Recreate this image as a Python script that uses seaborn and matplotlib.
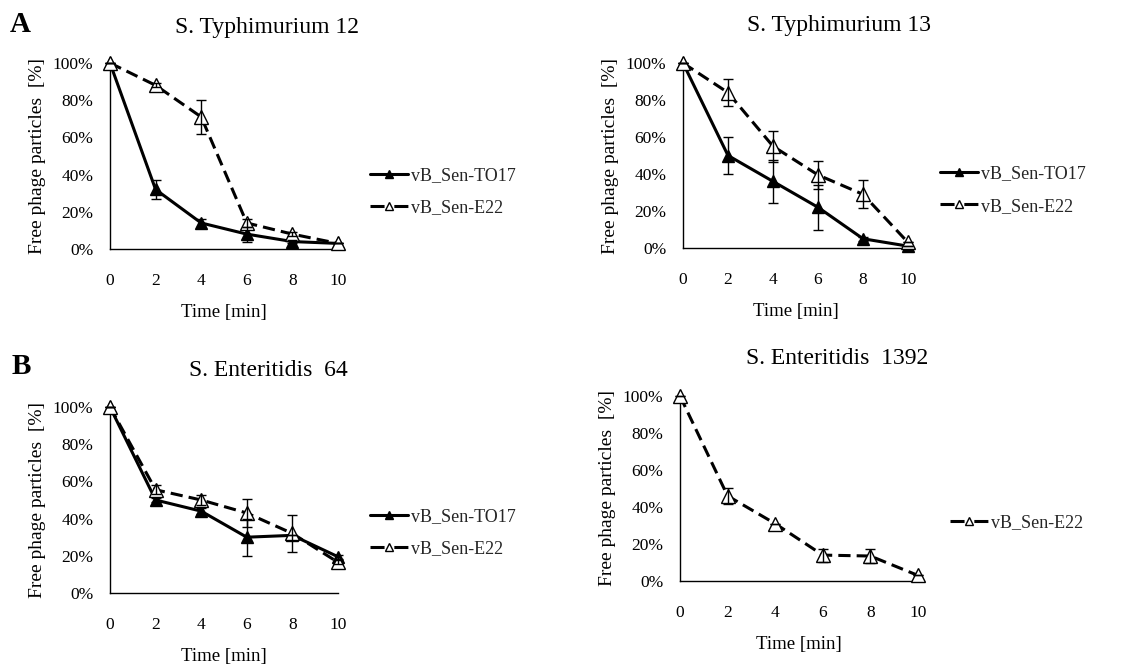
import numpy as np
import pandas as pd
import matplotlib
matplotlib.use("Agg")
import matplotlib.pyplot as plt
from matplotlib.ticker import PercentFormatter
import seaborn as sns

sns.set_theme(style="white")
plt.rcParams['font.family'] = ['Liberation Serif', 'DejaVu Serif']

time = [0, 2, 4, 6, 8, 10]

titles = ["S. Typhimurium 12", "S. Typhimurium 13", "S. Enteritidis  64", "S. Enteritidis  1392"]

# panel A1: S. Typhimurium 12
st12_to17 = [100, 32, 14, 8, 4, 3]
st12_to17_err = [0, 5, 2, 4, 1, 0]
st12_e22 = [100, 88, 71, 14, 8, 3]
st12_e22_err = [0, 1, 9, 2, 1, 0]

# panel A2: S. Typhimurium 13
st13_to17 = [100, 50, 36, 22, 5, 1]
st13_to17_err = [0, 10, 11.5, 12, 1, 0]
st13_e22 = [100, 84, 55, 39.5, 29, 3]
st13_e22_err = [0, 7.5, 8.5, 7.5, 7.5, 0]

# panel B1: S. Enteritidis 64
se64_to17 = [100, 50, 44, 30, 31, 19.5]
se64_to17_err = [0, 1, 1.5, 10, 0, 1]
se64_e22 = [100, 55.5, 50, 43, 32, 16.5]
se64_e22_err = [0, 2.5, 2.5, 7.5, 10, 1]

# panel B2: S. Enteritidis 1392
se1392_e22 = [100, 46, 31, 14, 13.5, 3]
se1392_e22_err = [0, 4.3, 0, 3.5, 4, 0]

series_names = ["vB_Sen-TO17", "vB_Sen-E22"]

panels = [
    dict(title=titles[0], to17=(st12_to17, st12_to17_err), e22=(st12_e22, st12_e22_err)),
    dict(title=titles[1], to17=(st13_to17, st13_to17_err), e22=(st13_e22, st13_e22_err)),
    dict(title=titles[2], to17=(se64_to17, se64_to17_err), e22=(se64_e22, se64_e22_err)),
    dict(title=titles[3], to17=None, e22=(se1392_e22, se1392_e22_err)),
]

W, H = 1137, 664
fig = plt.figure(figsize=(W / 100, H / 100), dpi=100)

def fr(x0, y0, x1, y1):
    return [x0 / W, 1 - y1 / H, (x1 - x0) / W, (y1 - y0) / H]

axes_rects = [fr(110, 63, 338, 249), fr(683, 63, 908, 248),
              fr(110, 407, 338, 593), fr(680, 396, 918, 581)]
title_pos = [(267, 28), (839, 26), (268, 371), (837, 359)]
legend_pos = [(370, 191.5), (940, 190), (370, 532.5), (950, 523)]

for p, rect, tp, lp in zip(panels, axes_rects, title_pos, legend_pos):
    ax = fig.add_axes(rect)
    if p["to17"] is not None:
        y, e = p["to17"]
        df = pd.DataFrame({"time": time, "value": y})
        sns.lineplot(data=df, x="time", y="value", ax=ax, color="black",
                     linewidth=2.2, marker="^", markersize=9,
                     markerfacecolor="black", mec="black", mew=1,
                     label=series_names[0], clip_on=False, zorder=3)
        ax.errorbar(time, y, yerr=e, fmt="none", ecolor="black",
                    elinewidth=1, capsize=3.5, capthick=1, zorder=6, clip_on=False)
    y, e = p["e22"]
    df = pd.DataFrame({"time": time, "value": y})
    sns.lineplot(data=df, x="time", y="value", ax=ax, color="black",
                 linewidth=2.2, linestyle=(0, (4, 2)), marker="^", markersize=10,
                 markerfacecolor="white", mec="black", mew=1,
                 label=series_names[1], clip_on=False, zorder=4)
    ax.errorbar(time, y, yerr=e, fmt="none", ecolor="black",
                elinewidth=1, capsize=3.5, capthick=1, zorder=7, clip_on=False)

    ax.set_xlim(0, 10)
    ax.set_ylim(0, 100)
    ax.set_xticks(time)
    ax.set_yticks([0, 20, 40, 60, 80, 100])
    ax.yaxis.set_major_formatter(PercentFormatter(100, decimals=0))
    for s in ["top", "right"]:
        ax.spines[s].set_visible(False)
    for s in ["left", "bottom"]:
        ax.spines[s].set_color("black")
        ax.spines[s].set_linewidth(1.0)
    ax.tick_params(axis="both", length=0, labelsize=12.5, colors="black")
    ax.tick_params(axis="x", pad=17)
    ax.tick_params(axis="y", pad=12)
    ax.set_xlabel("Time [min]", fontsize=13.5, labelpad=11, color="black")
    ax.set_ylabel("Free phage particles  [%]", fontsize=14, labelpad=5, color="black")
    ax.grid(False)

    handles, labels = ax.get_legend_handles_labels()
    leg = ax.legend(handles, labels, loc="center left",
                    bbox_to_anchor=(lp[0] / W, 1 - lp[1] / H), bbox_transform=fig.transFigure,
                    frameon=False, fontsize=13, handlelength=2.1, handletextpad=0.15,
                    labelspacing=0.85, borderpad=0, borderaxespad=0, markerscale=0.6)
    for h, lab in zip(leg.legend_handles, labels):
        if lab == series_names[1]:
            h.set_linestyle((0, (4.6, 3.2)))

    fig.text(tp[0] / W, 1 - tp[1] / H, p["title"], ha="center", va="center",
             fontsize=17, color="black")

fig.text(20 / W, 1 - 25 / H, "A", ha="center", va="center", fontsize=21,
         fontweight="bold", color="black")
fig.text(21 / W, 1 - 367 / H, "B", ha="center", va="center", fontsize=21,
         fontweight="bold", color="black")

fig.savefig("out.png", dpi=100, facecolor="white")
